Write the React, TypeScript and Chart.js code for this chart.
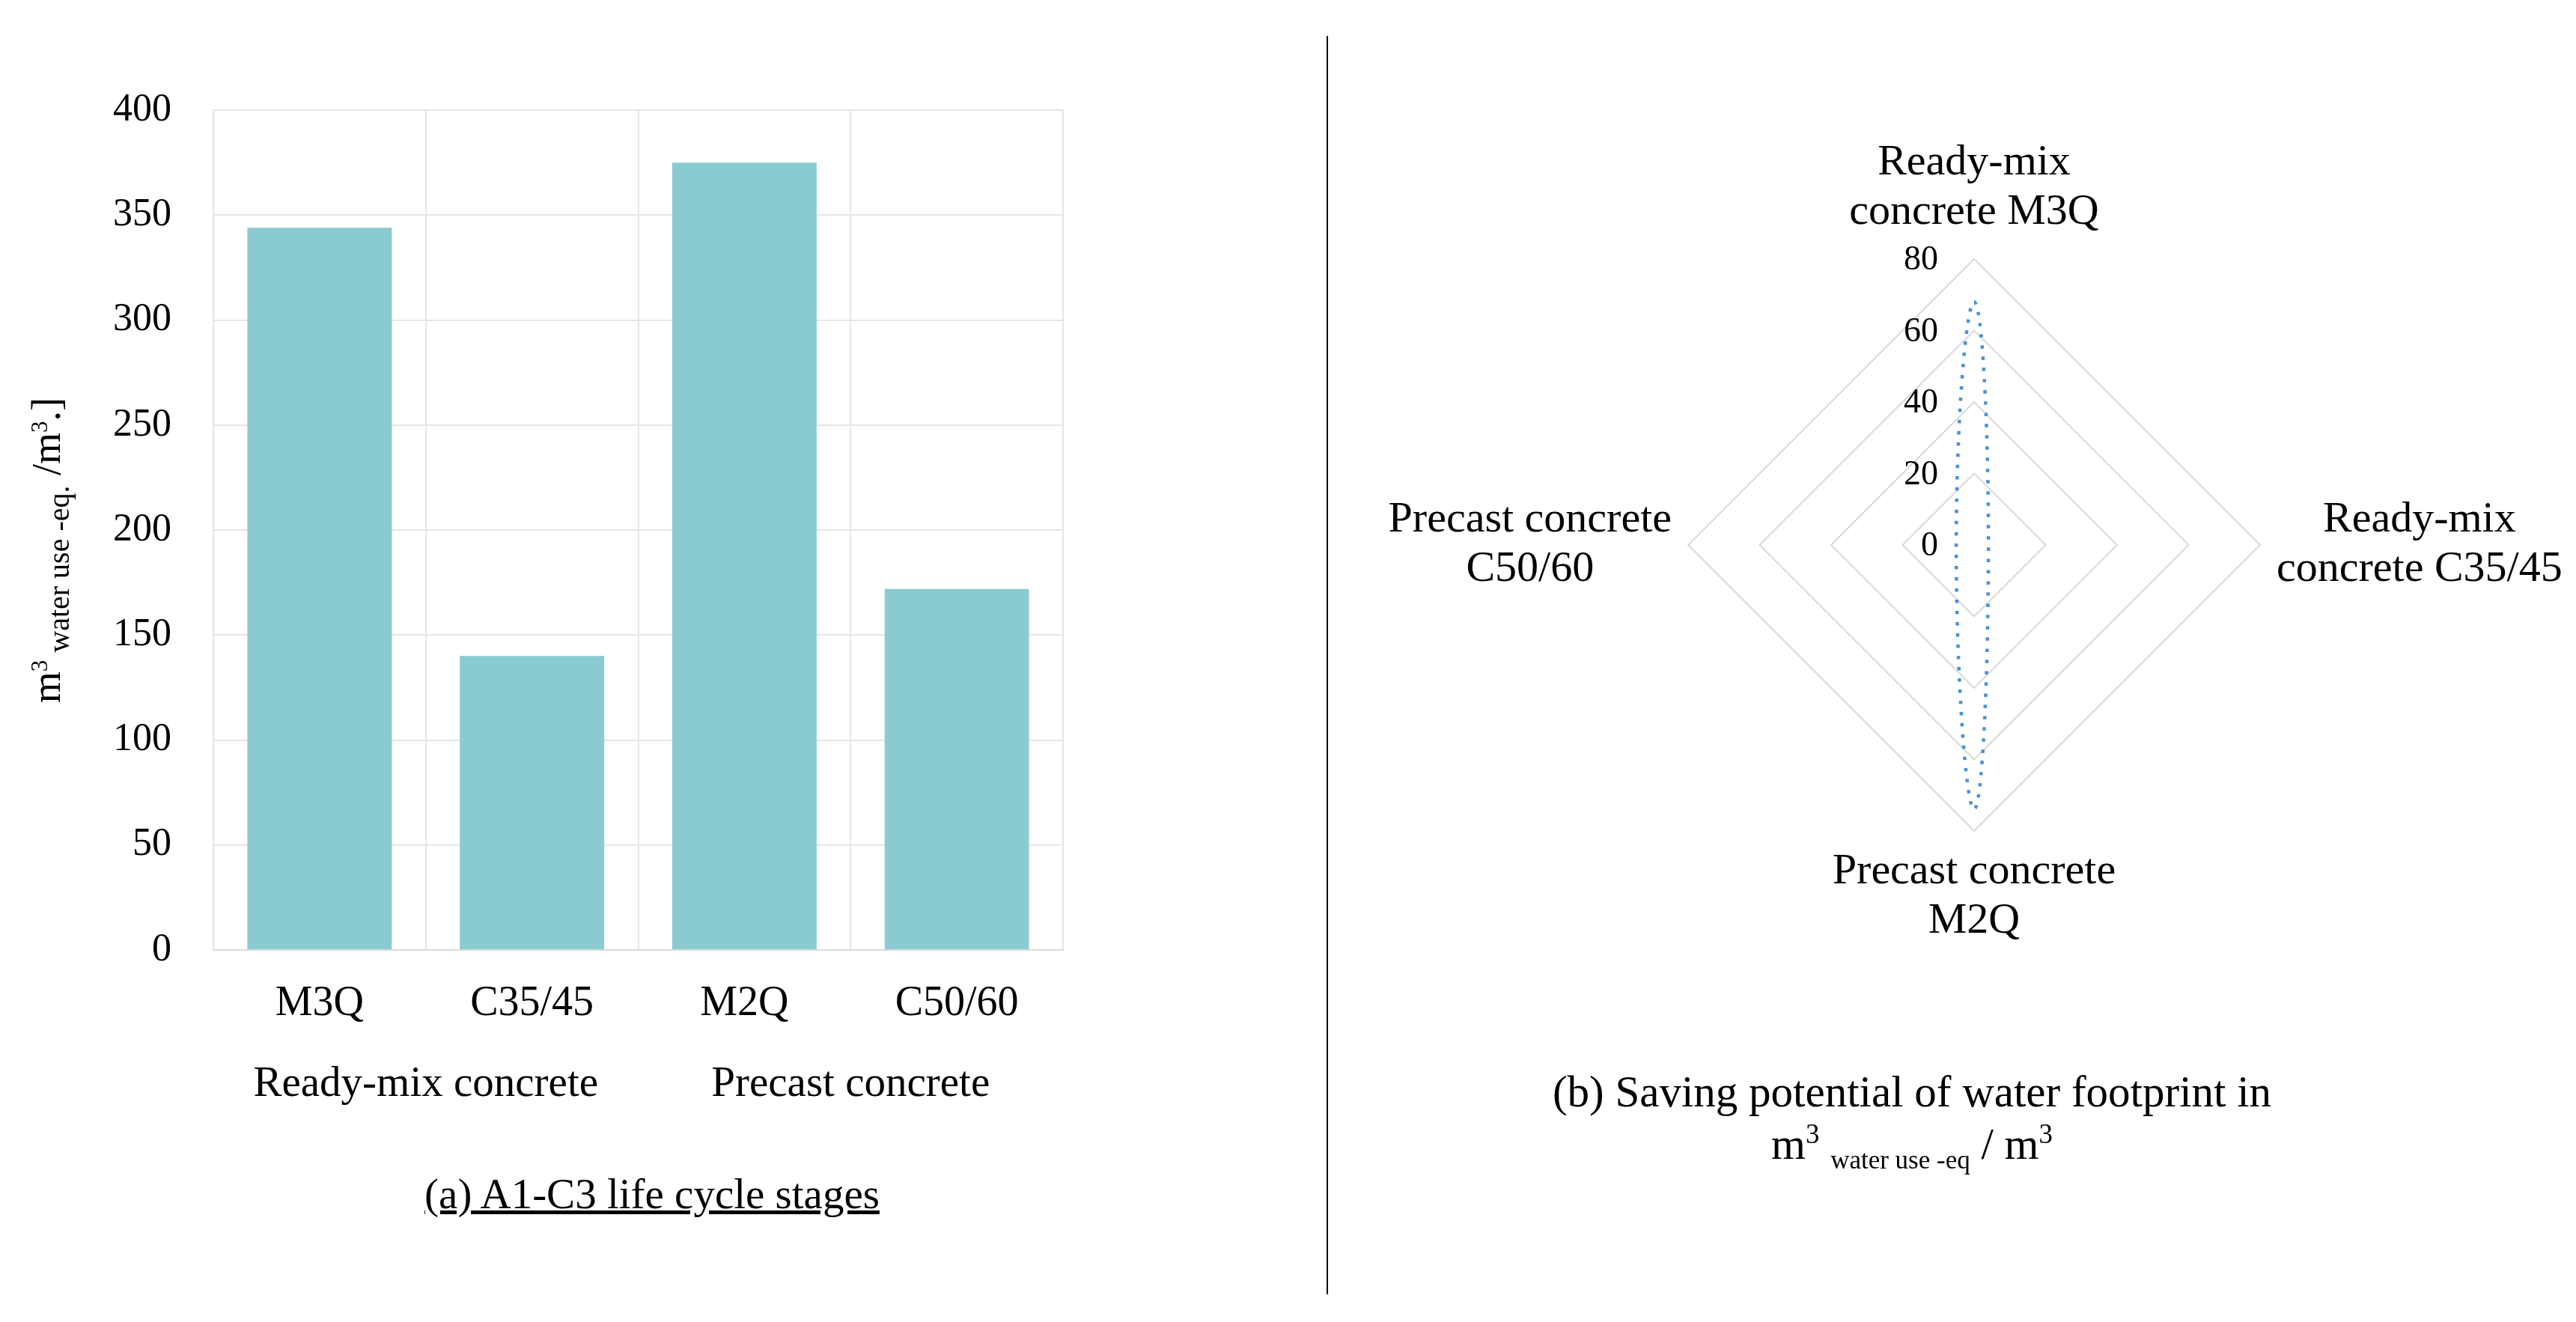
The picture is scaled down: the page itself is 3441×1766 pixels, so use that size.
import { useEffect, useRef } from 'react'
import { Chart, registerables } from 'chart.js'

Chart.register(...registerables)

const FONT = "'Liberation Serif', 'Times New Roman', serif"

// bar chart (a)
const barCategories = ['M3Q', 'C35/45', 'M2Q', 'C50/60']
const barGroups = ['Ready-mix concrete', 'Precast concrete']
const barValues = [344, 140, 375, 172]
const barTicks = { min: 0, max: 400, step: 50 }

// radar chart (b)
const radarLabels = [
  ['Ready-mix', 'concrete M3Q'],
  ['Ready-mix', 'concrete C35/45'],
  ['Precast concrete', 'M2Q'],
  ['Precast concrete', 'C50/60'],
]
const radarValues = [68, 4, 74, 5]
const radarTicks = { min: 0, max: 80, step: 20 }

// y axis title pieces: text, font size, baseline shift
const yTitleParts: [string, number, number][] = [
  ['m', 54, 0],
  ['3', 31, -17],
  [' water use -eq.', 40, 12],
  [' /m', 54, 0],
  ['3', 31, -17],
  ['.]', 54, 0],
]

const yTitlePlugin = {
  id: 'yTitleRich',
  afterDraw(chart: any) {
    const { ctx, chartArea } = chart
    const cy = (chartArea.top + chartArea.bottom) / 2 + 27
    ctx.save()
    ctx.translate(80, cy)
    ctx.rotate(-Math.PI / 2)
    ctx.fillStyle = '#000'
    ctx.textBaseline = 'alphabetic'
    ctx.textAlign = 'left'
    const widths = yTitleParts.map(([t, s]) => {
      ctx.font = `${s}px ${FONT}`
      return ctx.measureText(t).width
    })
    let x = -widths.reduce((a, b) => a + b, 0) / 2
    yTitleParts.forEach(([t, s, shift], i) => {
      ctx.font = `${s}px ${FONT}`
      ctx.fillText(t, x, shift)
      x += widths[i]
    })
    ctx.restore()
  },
}

// radial ticks left of the vertical axis, and point labels with centred lines
const radarTextPlugin = {
  id: 'radarText',
  afterDraw(chart: any) {
    const scale = chart.scales.r
    const { ctx } = chart
    ctx.save()
    ctx.fillStyle = '#000'

    ctx.font = `46px ${FONT}`
    ctx.textAlign = 'right'
    ctx.textBaseline = 'middle'
    scale.ticks.forEach((t: any) => {
      const p = scale.getPointPositionForValue(0, t.value)
      ctx.fillText(String(t.value), p.x - 48, p.y + 2)
    })

    ctx.font = `58px ${FONT}`
    ctx.textAlign = 'center'
    const lh = 66
    radarLabels.forEach((lines, i) => {
      const p = scale.getPointPosition(i, scale.drawingArea + 22)
      const n = lines.length
      const blockW = Math.max(...lines.map((l) => ctx.measureText(l).width))
      lines.forEach((line, k) => {
        let x = p.x
        let y = p.y
        if (i === 0) {
          y = p.y - 40 - lh * (n - 1 - k)
        } else if (i === 2) {
          y = p.y + 33 + lh * k
        } else if (i === 1) {
          x = p.x + blockW / 2
          y = scale.yCenter + (k - (n - 1) / 2) * lh
        } else {
          x = p.x - blockW / 2
          y = scale.yCenter + (k - (n - 1) / 2) * lh
        }
        ctx.fillText(line, x, y)
      })
    })
    ctx.restore()
  },
}

function BarChart() {
  const ref = useRef<HTMLCanvasElement>(null)

  useEffect(() => {
    if (!ref.current) return
    const chart = new Chart(ref.current, {
      type: 'bar',
      data: {
        labels: barCategories,
        datasets: [
          {
            data: barValues,
            backgroundColor: '#8ACBD2',
            barPercentage: 0.68,
            categoryPercentage: 1,
          },
        ],
      },
      options: {
        animation: false,
        responsive: false,
        devicePixelRatio: 1,
        layout: { padding: { top: 77, right: 80, left: 0, bottom: 11 } },
        plugins: { legend: { display: false }, tooltip: { enabled: false } },
        scales: {
          x: {
            offset: true,
            grid: { offset: true, color: '#e6e6e6', lineWidth: 2, drawTicks: false },
            border: { display: true, color: '#d9d9d9', width: 2 },
            ticks: { color: '#000', font: { family: FONT, size: 56 }, padding: 39 },
            afterFit: (s: any) => { s.height = 110 },
          },
          x2: {
            type: 'category',
            labels: barGroups,
            position: 'bottom',
            offset: true,
            grid: { display: false, drawTicks: false },
            border: { display: false },
            ticks: { color: '#000', font: { family: FONT, size: 57 }, padding: 36 },
            afterFit: (s: any) => { s.height = 110 },
          },
          y: {
            min: barTicks.min,
            max: barTicks.max,
            ticks: {
              stepSize: barTicks.step,
              color: '#000',
              font: { family: FONT, size: 52 },
              padding: 56,
            },
            grid: { color: '#e6e6e6', lineWidth: 2, drawTicks: false },
            border: { display: false },
            afterFit: (s: any) => { s.width = 285 },
          },
        },
      },
      plugins: [yTitlePlugin],
    } as any)
    return () => chart.destroy()
  }, [])

  return <canvas ref={ref} width={1500} height={1440} style={{ position: 'absolute', left: 0, top: 60 }} />
}

function RadarChart() {
  const ref = useRef<HTMLCanvasElement>(null)

  useEffect(() => {
    if (!ref.current) return
    const chart = new Chart(ref.current, {
      type: 'radar',
      data: {
        labels: radarLabels.map((l) => l.join(' ')),
        datasets: [
          {
            data: radarValues,
            borderColor: '#4A90D9',
            borderWidth: 4.5,
            borderDash: [4.5, 10.5],
            fill: false,
            pointRadius: 0,
            tension: 0.5,
          },
        ],
      },
      options: {
        animation: false,
        responsive: false,
        devicePixelRatio: 1,
        // square chart area: centre (837, 668) in the canvas, radius 382
        layout: { padding: { left: 455, right: 422, top: 286, bottom: 350 } },
        plugins: { legend: { display: false }, tooltip: { enabled: false } },
        scales: {
          r: {
            min: radarTicks.min,
            max: radarTicks.max,
            ticks: { stepSize: radarTicks.step, display: false },
            grid: { circular: false, color: '#d9d9d9', lineWidth: 2 },
            angleLines: { display: false },
            pointLabels: { display: false },
          },
        },
      },
      plugins: [radarTextPlugin],
    } as any)
    return () => chart.destroy()
  }, [])

  return <canvas ref={ref} width={1641} height={1400} style={{ position: 'absolute', left: 1800, top: 60 }} />
}

export default function App() {
  const supStyle = { fontSize: 37, lineHeight: 0, verticalAlign: 'super' as const }
  const subStyle = { fontSize: 35, lineHeight: 0, verticalAlign: 'sub' as const }
  return (
    <div
      style={{
        position: 'absolute',
        left: 0,
        top: 0,
        width: 3441,
        height: 1766,
        background: '#fff',
        fontFamily: FONT,
        color: '#000',
        overflow: 'hidden',
      }}
    >
      <BarChart />
      <div
        style={{
          position: 'absolute',
          left: 371,
          width: 1000,
          top: 1561,
          lineHeight: '68px',
          fontSize: 57,
          textAlign: 'center',
          textDecoration: 'underline',
        }}
      >
        (a) A1-C3 life cycle stages
      </div>
      <div style={{ position: 'absolute', left: 1772, top: 48, width: 2, height: 1681, background: '#000' }} />
      <RadarChart />
      <div
        style={{
          position: 'absolute',
          left: 2054,
          width: 1000,
          top: 1423,
          lineHeight: '70px',
          fontSize: 59,
          textAlign: 'center',
        }}
      >
        <div>(b) Saving potential of water footprint in</div>
        <div>
          m<span style={supStyle}>3</span> <span style={subStyle}>water use -eq</span> / m<span style={supStyle}>3</span>
        </div>
      </div>
    </div>
  )
}
